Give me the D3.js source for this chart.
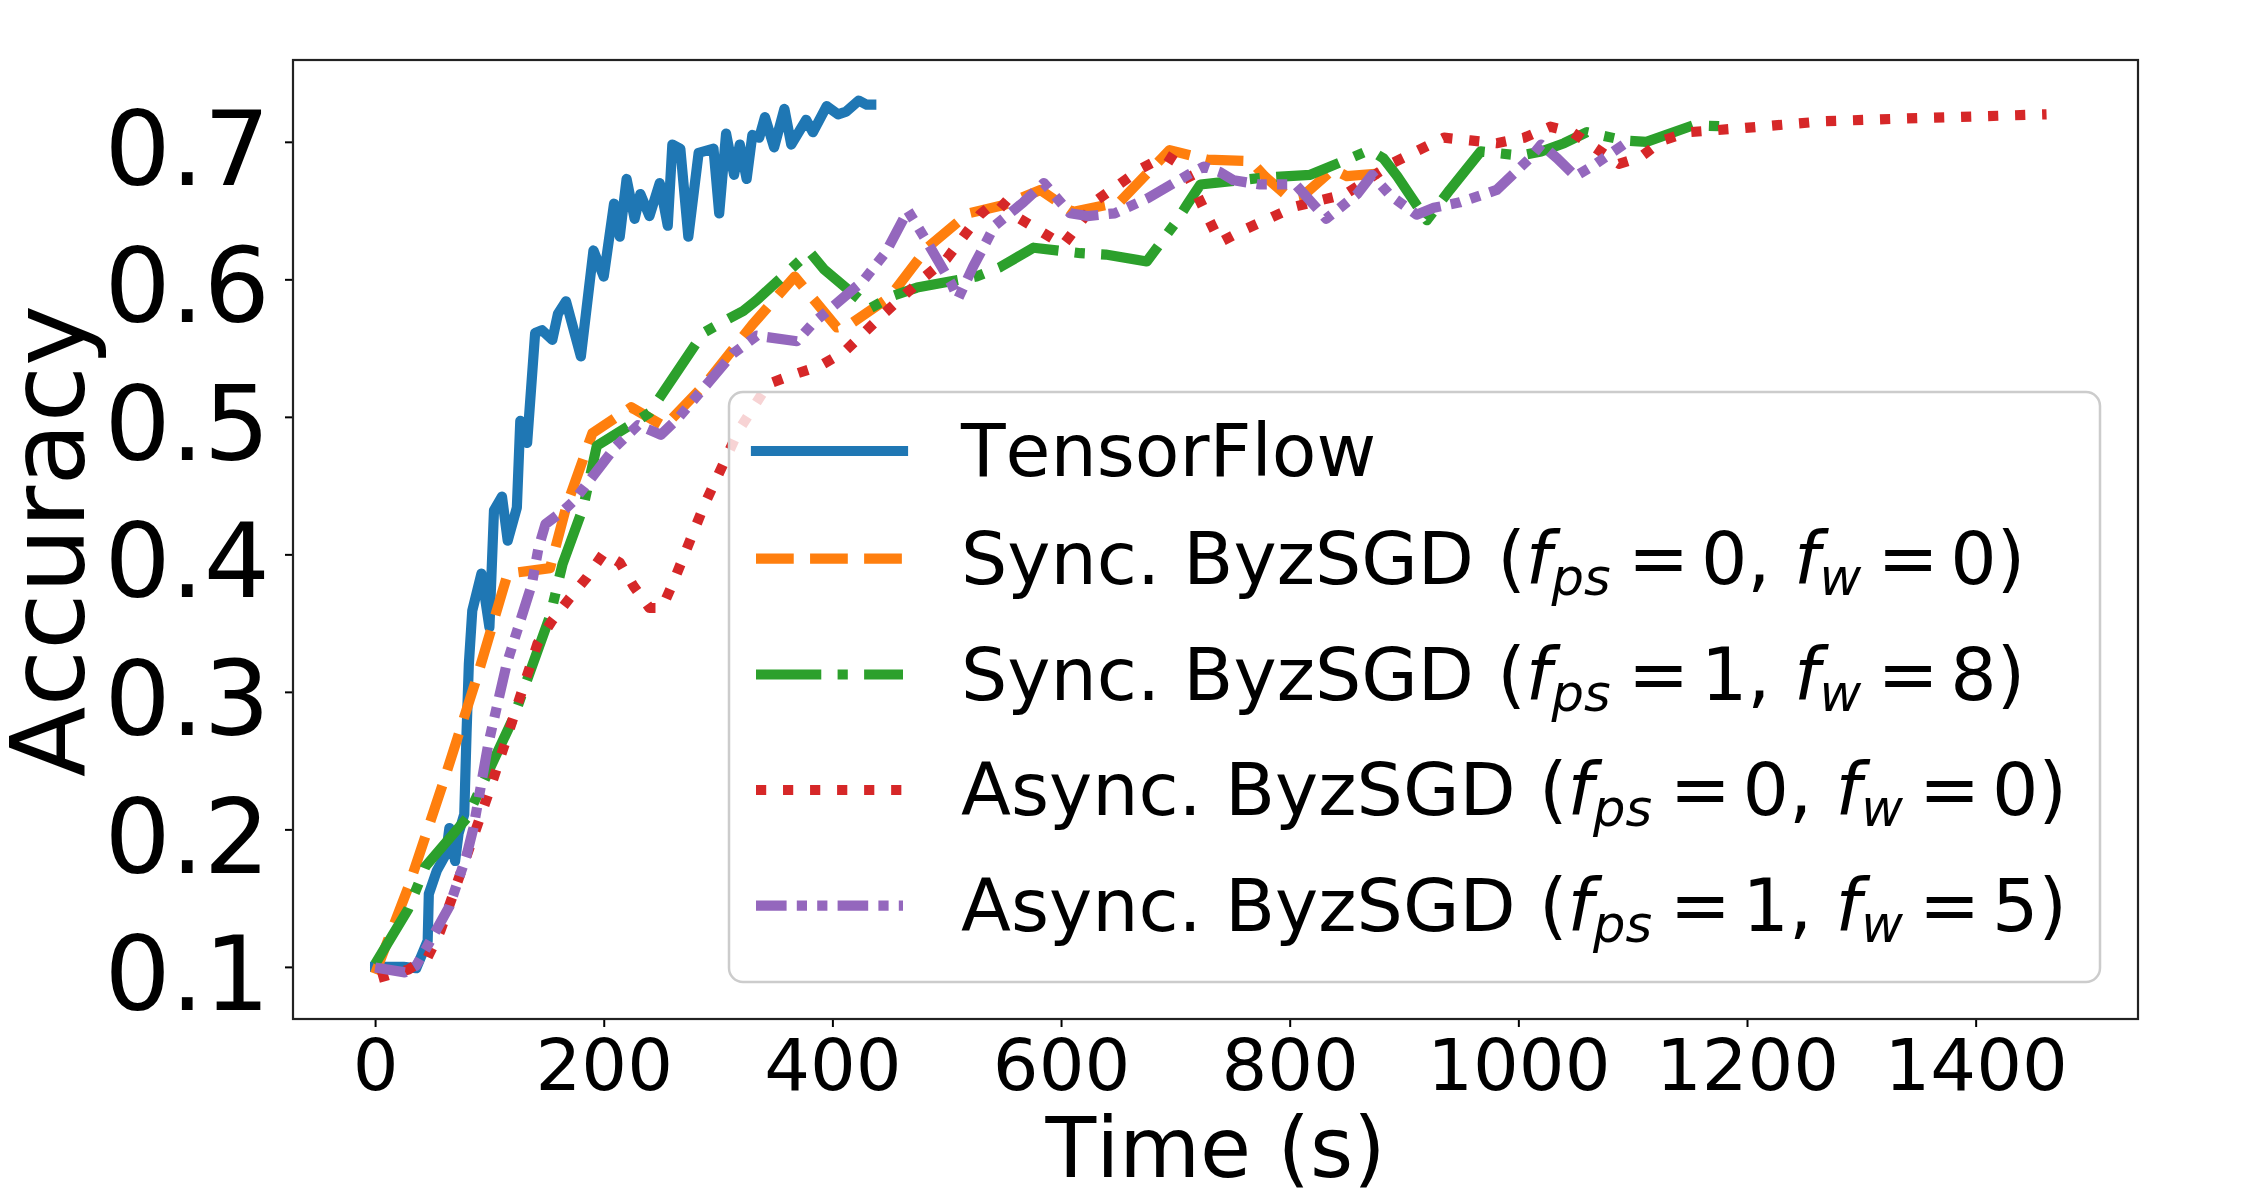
<!DOCTYPE html>
<html>
<head>
<meta charset="utf-8">
<script src="https://cdnjs.cloudflare.com/ajax/libs/d3/7.8.5/d3.min.js"></script>
<style>
  body { margin: 0; background: #fff; }
  text { font-family: 'DejaVu Sans', sans-serif; fill: #000; font-kerning: none; }
</style>
</head>
<body>
<div id="chart"></div>
<script>
// series values (time in s, accuracy)
var tfTime = [0,25,36,46,47,54,62,65,70,73,78,80,82,85,93,100,104,111,116,124,127,133,140,146,155,160,167,180,191,200,209,214,220,227,232,240,249,256,260,267,274,283,296,301,307,314,319,325,330,336,341,349,358,364,377,383,395,405,412,423,430,434];
var tfAcc = [0.100,0.100,0.099,0.119,0.153,0.170,0.182,0.201,0.177,0.197,0.211,0.270,0.320,0.359,0.386,0.347,0.432,0.442,0.410,0.434,0.497,0.481,0.561,0.563,0.556,0.575,0.584,0.544,0.621,0.602,0.655,0.631,0.673,0.644,0.662,0.646,0.670,0.639,0.698,0.695,0.631,0.692,0.695,0.648,0.706,0.676,0.698,0.673,0.705,0.703,0.718,0.696,0.724,0.698,0.716,0.707,0.726,0.720,0.722,0.730,0.727,0.727];

var syncTime = [0,30,60,90,116,135,153,167,190,224,253,290,330,367,404,415,450,483,519,550,582,610,651,695,728,766,778,800,812,838,850,892];
var syncAcc = [0.095,0.160,0.235,0.313,0.386,0.388,0.390,0.434,0.488,0.507,0.493,0.525,0.567,0.602,0.565,0.567,0.587,0.623,0.648,0.654,0.665,0.649,0.656,0.694,0.687,0.686,0.675,0.659,0.661,0.680,0.675,0.678];

var syncByzTime = [0,29,44,80,121,153,164,182,194,229,240,287,304,322,334,363,380,393,433,453,474,526,547,576,617,639,675,700,710,722,777,818,870,882,894,920,940,967,1002,1020,1040,1060,1093,1112,1153,1188];
var syncByzAcc = [0.102,0.142,0.173,0.208,0.281,0.355,0.393,0.434,0.479,0.497,0.503,0.561,0.569,0.577,0.585,0.607,0.620,0.607,0.579,0.588,0.594,0.602,0.609,0.623,0.619,0.618,0.613,0.641,0.654,0.669,0.674,0.676,0.694,0.688,0.675,0.643,0.665,0.693,0.690,0.693,0.699,0.707,0.701,0.700,0.712,0.711];

var asyncTime = [3,29,46,57,100,142,155,170,185,200,214,226,240,251,261,288,318,344,367,389,410,445,481,500,529,545,564,602,632,671,692,707,739,760,805,849,891,935,958,981,1005,1028,1047,1088,1107,1126,1149,1197,1268,1340,1462];
var asyncAcc = [0.092,0.098,0.107,0.126,0.228,0.335,0.352,0.368,0.383,0.401,0.394,0.377,0.361,0.361,0.380,0.436,0.490,0.524,0.531,0.537,0.547,0.575,0.602,0.615,0.647,0.658,0.644,0.625,0.658,0.681,0.690,0.682,0.627,0.636,0.653,0.662,0.685,0.703,0.701,0.699,0.703,0.711,0.707,0.684,0.689,0.701,0.707,0.710,0.715,0.717,0.720];

var asyncByzTime = [0,26,36,45,65,80,86,99,115,137,143,149,165,174,185,210,230,250,265,313,334,369,383,427,447,466,483,504,510,523,542,567,585,608,623,647,676,711,725,739,751,774,805,832,859,872,888,911,926,949,981,1010,1020,1034,1050,1066,1092];
var asyncByzAcc = [0.0995,0.096,0.101,0.114,0.144,0.181,0.201,0.262,0.320,0.378,0.405,0.422,0.432,0.439,0.451,0.478,0.494,0.487,0.499,0.546,0.559,0.555,0.568,0.599,0.620,0.650,0.627,0.597,0.586,0.609,0.639,0.656,0.670,0.648,0.646,0.648,0.659,0.676,0.682,0.678,0.672,0.669,0.669,0.644,0.662,0.676,0.661,0.647,0.652,0.656,0.665,0.688,0.698,0.688,0.675,0.683,0.698];

var legendNames = ['TensorFlow', 'Sync. ByzSGD', 'Sync. ByzSGD', 'Async. ByzSGD', 'Async. ByzSGD'];
var legendFps = [null, 0, 1, 0, 1];
var legendFw = [null, 0, 8, 0, 5];

var xTicks = [0, 200, 400, 600, 800, 1000, 1200, 1400];
var yTicks = [0.1, 0.2, 0.3, 0.4, 0.5, 0.6, 0.7];

(function(){
  var width = 2250,
      height = 1200;
  var left = 293, right = 2138, top = 60, bottom = 1019;
  var lw = 10.2;

  var svg = d3.select('#chart')
    .append('svg')
    .attr('width', width)
    .attr('height', height)

  svg.append('rect').attr('width', width).attr('height', height).attr('fill', '#fff')

  var x = d3.scaleLinear().domain([-71.8, 1542]).range([left, right])
  var y = d3.scaleLinear().domain([0.0621, 0.7595]).range([bottom, top])

  var series = [
    {time: tfTime, acc: tfAcc, color: '#1f77b4', dash: null},
    {time: syncTime, acc: syncAcc, color: '#ff7f0e', dash: [3.7, 1.6]},
    {time: syncByzTime, acc: syncByzAcc, color: '#2ca02c', dash: [6.4, 1.6, 1, 1.6]},
    {time: asyncTime, acc: asyncAcc, color: '#d62728', dash: [1, 1.65]},
    {time: asyncByzTime, acc: asyncByzAcc, color: '#9467bd', dash: [3, 1, 1, 1, 1, 1]}
  ]

  function dashArray(d){
    return d.dash ? d.dash.map(function(v){ return v * lw }).join(',') : null
  }

  var line = d3.line()
    .x(function(p){ return x(p[0]) })
    .y(function(p){ return y(p[1]) })

  svg.append('g').selectAll('path')
    .data(series)
    .enter().append('path')
    .attr('d', function(d){ return line(d3.zip(d.time, d.acc)) })
    .attr('fill', 'none')
    .attr('stroke', function(d){ return d.color })
    .attr('stroke-width', lw)
    .attr('stroke-linejoin', 'round')
    .attr('stroke-linecap', function(d){ return d.dash ? 'butt' : 'square' })
    .attr('stroke-dasharray', dashArray)

  // axes
  var xAxis = svg.append('g')
    .attr('transform', 'translate(0,' + bottom + ')')
    .call(d3.axisBottom(x).tickValues(xTicks).tickSize(8).tickFormat(d3.format('d')))
  xAxis.select('.domain').remove()
  xAxis.selectAll('line').attr('stroke', '#000').attr('stroke-width', 2)
  xAxis.selectAll('text')
    .attr('dy', null).attr('y', 71)
    .style('font-size', '72px').style('font-family', "'DejaVu Sans', sans-serif")

  var yAxis = svg.append('g')
    .attr('transform', 'translate(' + left + ',0)')
    .call(d3.axisLeft(y).tickValues(yTicks).tickSize(8).tickPadding(15).tickFormat(d3.format('.1f')))
  yAxis.select('.domain').remove()
  yAxis.selectAll('line').attr('stroke', '#000').attr('stroke-width', 2)
  yAxis.selectAll('text')
    .attr('dy', '0.41em')
    .style('font-size', '104px').style('font-family', "'DejaVu Sans', sans-serif")

  svg.append('rect')
    .attr('x', left).attr('y', top)
    .attr('width', right - left).attr('height', bottom - top)
    .attr('fill', 'none').attr('stroke', '#222').attr('stroke-width', 2.2)

  svg.append('text')
    .attr('x', (left + right) / 2).attr('y', 1177)
    .attr('text-anchor', 'middle')
    .style('font-size', '83px')
    .text('Time (s)')

  svg.append('text')
    .attr('transform', 'translate(84,541) rotate(-90)')
    .attr('text-anchor', 'middle')
    .style('font-size', '103px')
    .text('Accuracy')

  // legend
  var fs = 73;
  var legend = svg.append('g')
  legend.append('rect')
    .attr('x', 729).attr('y', 392)
    .attr('width', 1371).attr('height', 590)
    .attr('rx', 14)
    .attr('fill', '#fff').attr('fill-opacity', 0.8)
    .attr('stroke', '#cccccc').attr('stroke-width', 2.5)

  var rowY = [451, 558.6, 674.5, 790, 905.7]

  series.forEach(function(d, i){
    legend.append('line')
      .attr('x1', 756).attr('x2', 903)
      .attr('y1', rowY[i]).attr('y2', rowY[i])
      .attr('stroke', d.color)
      .attr('stroke-width', lw)
      .attr('stroke-linecap', d.dash ? 'butt' : 'square')
      .attr('stroke-dasharray', dashArray(d))

    var t = legend.append('text')
      .attr('x', 961).attr('y', rowY[i] + 25)
      .style('font-size', fs + 'px')

    if (legendFps[i] === null) {
      t.text(legendNames[i])
      return
    }
    var sub = 11;
    t.append('tspan').text(legendNames[i] + ' (')
    t.append('tspan').attr('font-style', 'italic').text('f')
    t.append('tspan').attr('font-style', 'italic').style('font-size', (fs * 0.7) + 'px').attr('dy', sub).text('ps')
    t.append('tspan').attr('dy', -sub).attr('dx', 0.24 * fs).text('=')
    t.append('tspan').attr('dx', 0.16 * fs).text(legendFps[i] + ',')
    t.append('tspan').attr('dx', 0.32 * fs).attr('font-style', 'italic').text('f')
    t.append('tspan').attr('font-style', 'italic').style('font-size', (fs * 0.7) + 'px').attr('dy', sub).text('w')
    t.append('tspan').attr('dy', -sub).attr('dx', 0.22 * fs).text('=')
    t.append('tspan').attr('dx', 0.16 * fs).text(legendFw[i] + ')')
  })
})()
</script>
</body>
</html>
